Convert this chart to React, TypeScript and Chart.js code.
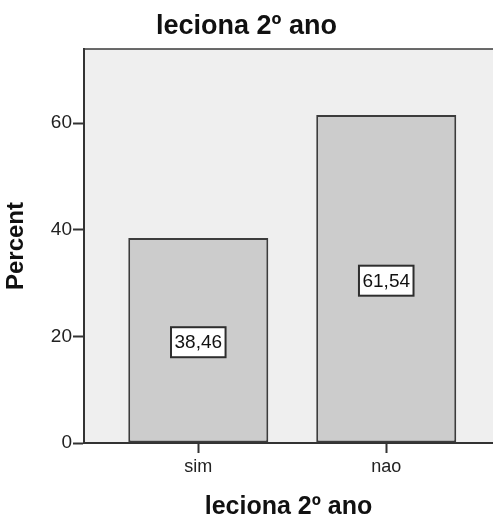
import React, { useEffect, useRef } from "react";
import { Chart, registerables } from "chart.js";

Chart.register(...registerables);

const categories = ["sim", "nao"];
const percentValues = [38.46, 61.54];
const yTickValues = [0, 20, 40, 60];
const chartTitle = "leciona 2º ano";
const xAxisTitle = "leciona 2º ano";
const yAxisTitle = "Percent";

const FONT = "'Liberation Sans', Arial, sans-serif";

const frameAndBackground = {
  id: "frameAndBackground",
  beforeDraw(chart: any) {
    const { ctx, chartArea } = chart;
    ctx.save();
    ctx.fillStyle = "#efefef";
    ctx.fillRect(chartArea.left, chartArea.top, chartArea.right - chartArea.left, chartArea.bottom - chartArea.top);
    ctx.restore();
  },
  afterDraw(chart: any) {
    const { ctx, chartArea } = chart;
    ctx.save();
    ctx.strokeStyle = "#3a3a3a";
    ctx.lineWidth = 1.5;
    ctx.beginPath();
    ctx.moveTo(chartArea.left, chartArea.top);
    ctx.lineTo(chartArea.right, chartArea.top);
    ctx.stroke();
    ctx.restore();
  },
};

const valueBoxes = {
  id: "valueBoxes",
  afterDatasetsDraw(chart: any) {
    const { ctx } = chart;
    const meta = chart.getDatasetMeta(0);
    const data = chart.data.datasets[0].data as any[];
    ctx.save();
    ctx.font = `19px ${FONT}`;
    meta.data.forEach((el: any, i: number) => {
      const v = data[i].y as number;
      const text = v.toFixed(2).replace(".", ",");
      const tw = ctx.measureText(text).width;
      const w = tw + 7;
      const h = 30;
      const cx = el.x;
      const cy = (el.y + el.base) / 2 + 2;
      ctx.fillStyle = "#ffffff";
      ctx.fillRect(cx - w / 2, cy - h / 2, w, h);
      ctx.strokeStyle = "#2e2e2e";
      ctx.lineWidth = 2;
      ctx.strokeRect(cx - w / 2, cy - h / 2, w, h);
      ctx.fillStyle = "#111111";
      ctx.textAlign = "center";
      ctx.textBaseline = "middle";
      ctx.fillText(text, cx, cy + 1);
    });
    ctx.restore();
  },
};

export default function App() {
  const ref = useRef<HTMLCanvasElement | null>(null);

  useEffect(() => {
    document.body.style.margin = "0";
    if (!ref.current) return;
    const chart = new Chart(ref.current, {
      type: "bar",
      data: {
        datasets: [
          {
            data: percentValues.map((v, i) => ({ x: i + 1, y: v })),
            backgroundColor: "#cccccc",
            borderColor: "#3c3c3c",
            borderWidth: 2,
            borderSkipped: false,
            barPercentage: 1,
            categoryPercentage: 0.745,
          },
        ],
      },
      options: {
        responsive: false,
        animation: false,
        layout: { padding: 0 },
        plugins: {
          legend: { display: false },
          tooltip: { enabled: false },
          title: {
            display: true,
            text: chartTitle,
            color: "#111111",
            font: { family: FONT, size: 27, weight: "bold", lineHeight: 1.2 },
            padding: { top: 10.4, bottom: 6.2 },
          },
        },
        scales: {
          x: {
            type: "linear",
            min: 0.392,
            max: 2.568,
            offset: false,
            afterBuildTicks: (scale: any) => {
              scale.ticks = categories.map((_, i) => ({ value: i + 1 }));
            },
            afterFit: (scale: any) => {
              scale.height = 77;
            },
            ticks: {
              callback: (value: any) => categories[Math.round(Number(value)) - 1] ?? "",
              color: "#222222",
              font: { family: FONT, size: 18 },
              padding: 3,
              maxRotation: 0,
              autoSkip: false,
            },
            grid: {
              offset: false,
              drawOnChartArea: false,
              drawTicks: true,
              tickLength: 10,
              tickColor: "#333333",
              tickWidth: 2,
            },
            border: { display: true, color: "#333333", width: 2 },
            title: {
              display: true,
              text: xAxisTitle,
              color: "#111111",
              font: { family: FONT, size: 25, weight: "bold", lineHeight: 1 },
              padding: { top: 0, bottom: 0.3 },
            },
          },
          y: {
            type: "linear",
            min: 0,
            max: 73.9,
            afterBuildTicks: (scale: any) => {
              scale.ticks = yTickValues.map((v) => ({ value: v }));
            },
            afterFit: (scale: any) => {
              scale.width = 84;
            },
            ticks: {
              color: "#222222",
              font: { family: FONT, size: 19 },
              padding: 1,
            },
            grid: {
              drawOnChartArea: false,
              drawTicks: true,
              tickLength: 11,
              tickColor: "#333333",
              tickWidth: 2,
            },
            border: { display: true, color: "#333333", width: 2 },
            title: {
              display: true,
              text: yAxisTitle,
              color: "#111111",
              font: { family: FONT, size: 24, weight: "bold", lineHeight: 1 },
              padding: { top: 4, bottom: 0 },
            },
          },
        },
      },
      plugins: [frameAndBackground, valueBoxes],
    } as any);
    return () => chart.destroy();
  }, []);

  return (
    <div style={{ width: 493, height: 520 }}>
      <canvas ref={ref} width={493} height={520} />
    </div>
  );
}
